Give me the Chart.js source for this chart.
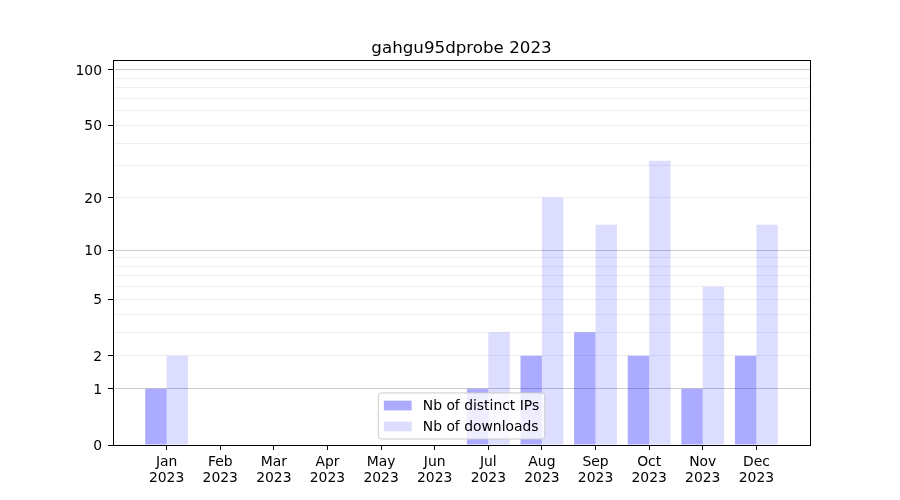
<!DOCTYPE html>
<html>
<head>
<meta charset="utf-8">
<script src="https://cdn.jsdelivr.net/npm/chart.js@4/dist/chart.umd.min.js"></script>
<style>
  html, body { margin: 0; padding: 0; background: #fff; }
  #wrap { width: 900px; height: 500px; }
</style>
</head>
<body>
<div id="wrap"><canvas id="probeChart" width="900" height="500"></canvas></div>
<script>
// chart data
const months = ['Jan', 'Feb', 'Mar', 'Apr', 'May', 'Jun', 'Jul', 'Aug', 'Sep', 'Oct', 'Nov', 'Dec'];
const year = '2023';
const distinctIps = [1, 0, 0, 0, 0, 0, 1, 2, 3, 2, 1, 2];
const downloads = [2, 0, 0, 0, 0, 0, 3, 20, 14, 32, 6, 14];
const yMajorTicks = [0, 1, 2, 5, 10, 20, 50, 100];
const yMinorTicks = [3, 4, 6, 7, 8, 9, 30, 40, 60, 70, 80, 90];
const yDarkLines = [1, 10, 100];
const chartTitle = 'gahgu95dprobe ' + year;

const font = 'DejaVu Sans';

// y scale drawn as log(1 + y)
class Log1pScale extends Chart.LinearScale {
    static id = 'log1p';
    static defaults = Chart.LinearScale.defaults;

    buildTicks() {
        return yMajorTicks.concat(yMinorTicks)
            .filter(v => v >= this.min && v <= this.max)
            .sort((a, b) => a - b)
            .map(v => ({ value: v }));
    }
    configure() {
        super.configure();
        this._lo = Math.log1p(this.min);
        this._hi = Math.log1p(this.max);
    }
    getPixelForValue(value) {
        return this.getPixelForDecimal((Math.log1p(value) - this._lo) / (this._hi - this._lo));
    }
    getValueForPixel(pixel) {
        return Math.expm1(this._lo + this.getDecimalForPixel(pixel) * (this._hi - this._lo));
    }
}
Chart.register(Log1pScale);

// black frame around the plot area + title centred over it
const framePlugin = {
    id: 'frame',
    afterDatasetsDraw(chart) {
        const a = chart.chartArea;
        const ctx = chart.ctx;
        ctx.save();
        ctx.strokeStyle = '#000';
        ctx.lineWidth = 1;
        ctx.strokeRect(Math.round(a.left) + 0.5, Math.round(a.top) + 0.5,
            Math.round(a.right - a.left), Math.round(a.bottom - a.top));
        ctx.font = '16.7px "' + font + '"';
        ctx.fillStyle = '#000';
        ctx.textAlign = 'center';
        ctx.textBaseline = 'alphabetic';
        ctx.fillText(chartTitle, (a.left + a.right) / 2, 53);
        ctx.restore();
    }
};

// matplotlib like legend, lower center inside the plot
const boxLegend = {
    id: 'boxLegend',
    afterDraw(chart) {
        const ctx = chart.ctx;
        const a = chart.chartArea;
        const fs = 13.9;
        const pad = 0.4 * fs, handle = 2 * fs, gap = 0.8 * fs, rowH = 14, spacing = 0.5 * fs;
        const sets = chart.data.datasets;
        ctx.save();
        ctx.font = fs + 'px "' + font + '"';
        const textW = Math.max(...sets.map(d => ctx.measureText(d.label).width));
        const w = 2 * pad + handle + gap + textW;
        const h = 2 * pad + sets.length * rowH + (sets.length - 1) * spacing;
        const x = (a.left + a.right) / 2 - w / 2;
        const y = a.bottom - 6 - h;
        ctx.beginPath();
        ctx.roundRect(x, y, w, h, 3);
        ctx.fillStyle = 'rgba(255,255,255,0.8)';
        ctx.fill();
        ctx.strokeStyle = '#cccccc';
        ctx.lineWidth = 1;
        ctx.stroke();
        sets.forEach((d, i) => {
            const cy = y + pad + rowH / 2 + i * (rowH + spacing);
            ctx.fillStyle = d.backgroundColor;
            ctx.fillRect(x + pad, cy - 0.35 * fs, handle, 0.7 * fs);
            ctx.fillStyle = '#000';
            ctx.textBaseline = 'middle';
            ctx.textAlign = 'left';
            ctx.fillText(d.label, x + pad + handle + gap, cy + 1);
        });
        ctx.restore();
    }
};

const probeData = {
    datasets: [{
        label: 'Nb of distinct IPs',
        data: distinctIps.map((v, i) => ({ x: i, y: v })),
        backgroundColor: 'rgba(0, 0, 255, 0.33)',
        borderWidth: 0
    }, {
        label: 'Nb of downloads',
        data: downloads.map((v, i) => ({ x: i, y: v })),
        backgroundColor: 'rgba(0, 0, 255, 0.135)',
        borderWidth: 0
    }]
};

const probeConfig = {
    type: 'bar',
    data: probeData,
    plugins: [framePlugin, boxLegend],
    options: {
        responsive: false,
        animation: false,
        categoryPercentage: 0.8,
        barPercentage: 1.0,
        layout: { padding: { left: 0, right: 90, top: 60, bottom: 0 } },
        plugins: {
            legend: { display: false },
            tooltip: { enabled: false },
            title: { display: false }
        },
        scales: {
            x: {
                type: 'linear',
                min: -1,
                max: months.length,
                offset: false,
                afterBuildTicks: scale => {
                    scale.ticks = months.map((m, i) => ({ value: i }));
                },
                afterFit: scale => { scale.height = 55; },
                border: { display: false },
                grid: {
                    offset: false,
                    drawOnChartArea: false,
                    tickLength: 5,
                    tickColor: '#000'
                },
                ticks: {
                    autoSkip: false,
                    maxRotation: 0,
                    padding: 5,
                    color: '#000',
                    font: { family: font, size: 13.9, lineHeight: 1.1 },
                    callback: value => [months[value], year]
                }
            },
            y: {
                type: 'log1p',
                min: 0,
                max: 113,
                afterFit: scale => { scale.width = 113; },
                border: { display: false },
                grid: {
                    tickLength: 5,
                    color: ctx => yDarkLines.includes(ctx.tick.value) ? '#cccccc' : '#efefef',
                    tickColor: ctx => yMajorTicks.includes(ctx.tick.value) ? '#000' : 'rgba(0,0,0,0)'
                },
                ticks: {
                    autoSkip: false,
                    padding: 6,
                    labelOffset: 1.5,
                    color: '#000',
                    font: { family: font, size: 13.9 },
                    callback: value => yMajorTicks.includes(value) ? String(value) : ''
                }
            }
        }
    }
};

const probeChart = new Chart(
    document.getElementById('probeChart'),
    probeConfig
);
</script>
</body>
</html>
